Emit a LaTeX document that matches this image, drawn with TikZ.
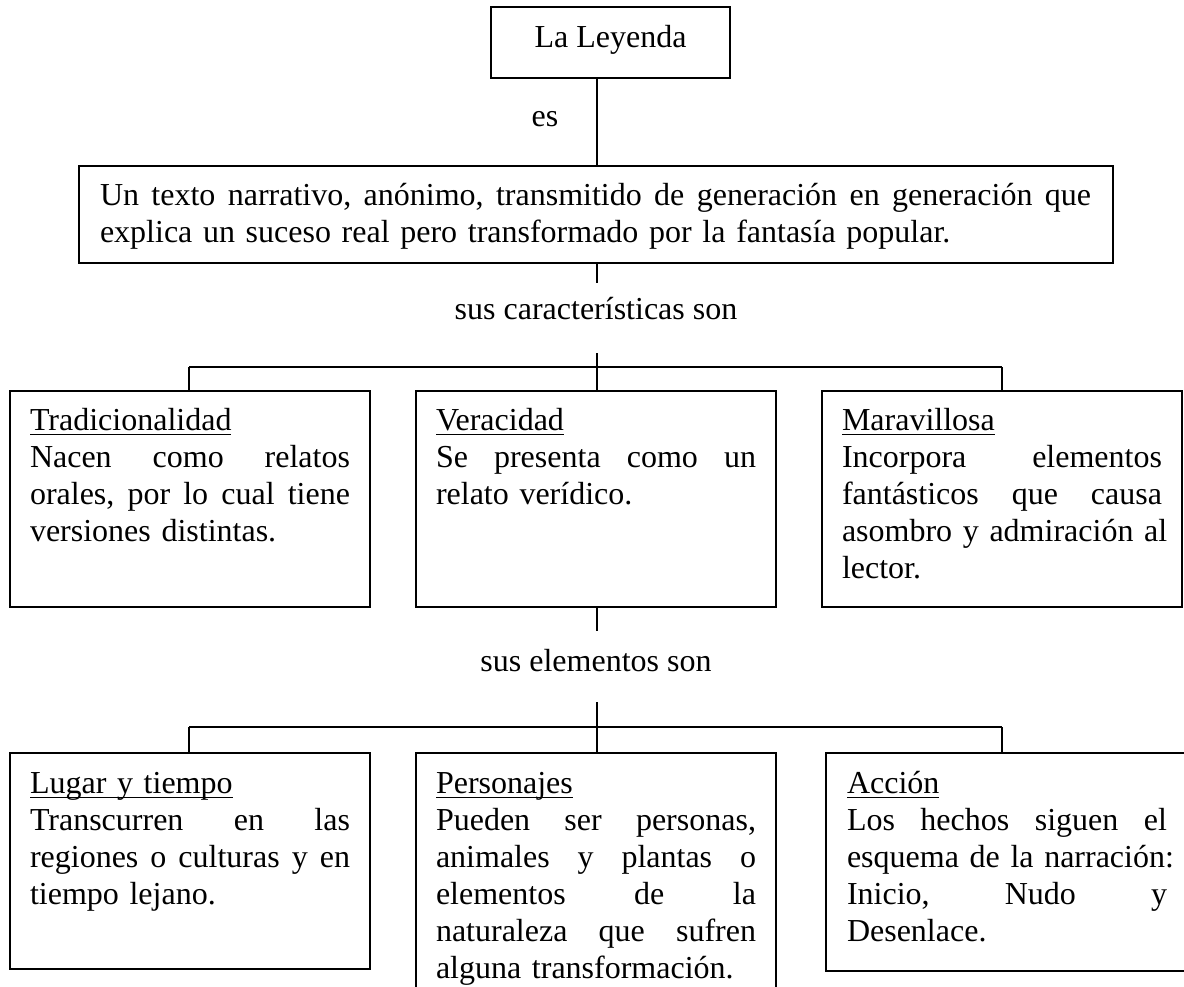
\documentclass[tikz,border=0pt]{standalone}
\usepackage{fontspec}
\setmainfont{Liberation Serif}
\newcommand\ulx[1]{\setbox0\hbox{#1}\rlap{\rule[-2.05pt]{\wd0}{0.7pt}}\box0}
\newcommand\jl[1]{\leavevmode\hbox to 120pt{#1}}
\newcommand\jlw[1]{\leavevmode\hbox to 371.625pt{#1}}
\newcommand\gap{\hspace{0pt plus 1fill}}
\hbadness=10000
\hfuzz=20pt
\frenchspacing
\begin{document}
\begin{tikzpicture}[x=0.375pt,y=-0.375pt,line width=0.8pt,
  box/.style={draw,rectangle,inner sep=0pt,outer sep=0pt,anchor=north west},
  txt/.style={inner sep=0pt,outer sep=0pt,anchor=north west,text width=120pt,align=left,font=\fontsize{12}{13.875}\selectfont},
  lbl/.style={inner sep=0pt,outer sep=0pt,anchor=base,font=\fontsize{12}{13.875}\selectfont}]
\useasboundingbox (0,0) rectangle (1184,987);
% top
\node[draw,rectangle,inner sep=0pt,outer sep=0pt,minimum width=89.625pt,minimum height=26.625pt,text height=9pt,text depth=5pt,font=\fontsize{12}{13.875}\selectfont] (ley) at (610.5,42.5) {La Leyenda};
\node[lbl] (es) at (545,127) {es};
\node[box,minimum width=387.75pt,minimum height=36.375pt] (def) at (79,166) {};
\node[txt,text width=371.625pt] (tdef) at (100,180.1) {\strut\jlw{Un \gap texto \gap narrativo, \gap anónimo, \gap transmitido \gap de \gap generación \gap en \gap generación \gap que}\\ explica un suceso real pero transformado por la fantasía popular.};
\node[lbl] (car) at (596,320) {sus características son};
% row 1
\node[box,minimum width=135pt,minimum height=81pt] (b1) at (10,391) {};
\node[box,minimum width=135pt,minimum height=81pt] (b2) at (416,391) {};
\node[box,minimum width=135pt,minimum height=81pt] (b3) at (822,391) {};
\node[txt] (t1) at (30,404.1) {\strut\ulx{Tradicionalidad}\\ \jl{Nacen \gap como \gap relatos}\\ \jl{orales, \gap por \gap lo \gap cual \gap tiene}\\ versiones distintas.};
\node[txt] (t2) at (436,404.1) {\strut\ulx{Veracidad}\\ \jl{Se \gap presenta \gap como \gap un}\\ relato verídico.};
\node[txt] (t3) at (842,404.1) {\strut\ulx{Maravillosa}\\ \jl{Incorpora \gap elementos}\\ \jl{fantásticos \gap que \gap causa}\\ \jl{asombro \gap y \gap admiración \gap al}\\ lector.};
\node[lbl] (ele) at (596,671) {sus elementos son};
% row 2
\node[box,minimum width=135pt,minimum height=81pt] (b4) at (10,753) {};
\node[box,minimum width=135pt,minimum height=93pt] (b5) at (416,753) {};
\node[box,minimum width=136.5pt,minimum height=81.75pt] (b6) at (826,753) {};
\node[txt] (t4) at (30,767.1) {\strut\ulx{Lugar y tiempo}\\ \jl{Transcurren \gap en \gap las}\\ \jl{regiones \gap o \gap culturas \gap y \gap en}\\ tiempo lejano.};
\node[txt] (t5) at (436,767.1) {\strut\ulx{Personajes}\\ \jl{Pueden \gap ser \gap personas,}\\ \jl{animales \gap y \gap plantas \gap o}\\ \jl{elementos \gap de \gap la}\\ \jl{naturaleza \gap que \gap sufren}\\ alguna transformación.};
\node[txt] (t6) at (847,767.1) {\strut\ulx{Acción}\\ \jl{Los \gap hechos \gap siguen \gap el}\\ \jl{esquema \gap de \gap la \gap narración:}\\ \jl{Inicio, \gap Nudo \gap y}\\ Desenlace.};
% connectors
\coordinate (ax) at (597,0);
\draw (ley.south -| ax) -- (def.north -| ax);
\coordinate (s1) at (597,283);
\draw (def.south -| ax) -- (s1);
\coordinate (s2) at (597,353);
\draw (s2) -- (b2.north -| ax);
\coordinate (bl1) at (189,367);
\coordinate (br1) at (1002,367);
\draw (bl1) -- (br1);
\draw (bl1) -- (bl1 |- b1.north);
\draw (br1) -- (br1 |- b3.north);
\coordinate (s3) at (597,631);
\draw (b2.south -| ax) -- (s3);
\coordinate (s4) at (597,702);
\draw (s4) -- (b5.north -| ax);
\coordinate (bl2) at (189,727);
\coordinate (br2) at (1002,727);
\draw (bl2) -- (br2);
\draw (bl2) -- (bl2 |- b4.north);
\draw (br2) -- (br2 |- b6.north);
\end{tikzpicture}
\end{document}
